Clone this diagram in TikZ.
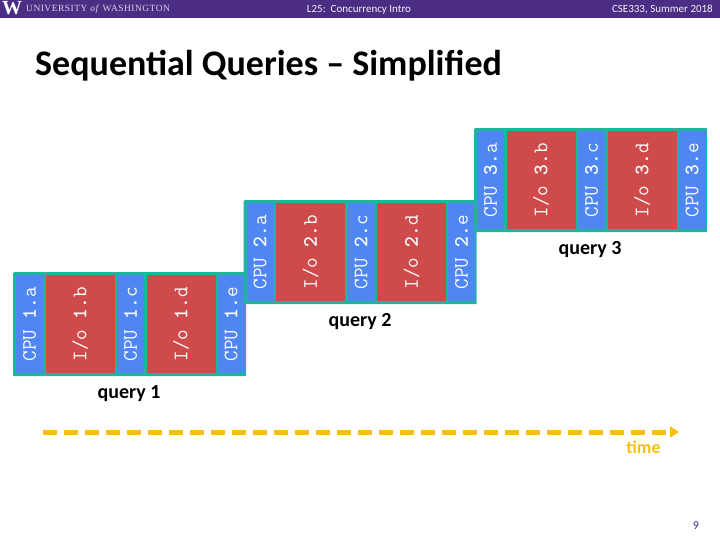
\documentclass[tikz,border=0pt]{standalone}
\usepackage{fontspec}
\setmainfont{Carlito}
\newfontfamily\uwfont[LetterSpace=5]{Liberation Serif}
\usetikzlibrary{arrows.meta}
\definecolor{UWPurple}{HTML}{4B2E83}
\definecolor{QTeal}{HTML}{1DB59B}
\definecolor{CPUBlue}{HTML}{4F86F2}
\definecolor{IORed}{HTML}{CF4A4A}
\definecolor{TimeGold}{HTML}{F6BE17}
\definecolor{UWText}{HTML}{D8D2E6}
\definecolor{HeadText}{HTML}{F4F2F8}
\tikzset{
  querybox/.style={fill=QTeal,rounded corners=1pt,anchor=north west,inner sep=0pt,minimum width=233,minimum height=104},
  cpucell/.style={fill=CPUBlue,anchor=north west,inner sep=0pt,minimum width=27,minimum height=98},
  iocell/.style={fill=IORed,anchor=north west,inner sep=0pt,minimum width=69,minimum height=98},
  celltext/.style={text=white,font=\ttfamily\fontsize{20.5}{20}\selectfont,rotate=90,inner sep=0pt},
  querylabel/.style={font=\bfseries\fontsize{20}{22}\selectfont,text=black,inner sep=0pt},
  headtext/.style={font=\fontsize{11}{12}\selectfont,text=HeadText,inner sep=0pt}
}
\begin{document}
\begin{tikzpicture}[x=1pt,y=-1pt]
\path[use as bounding box] (0,0) rectangle (720,540);
\fill[UWPurple] (0,0) rectangle (720,18.5);
\node[font=\bfseries\fontsize{20}{20}\selectfont\rmfamily\fontspec{Liberation Serif},text=white,inner sep=0pt] (uwlogo) at (12,8.5) {W};
\node[font=\uwfont\fontsize{9.5}{12}\selectfont,text=UWText,anchor=west,inner sep=0pt] (uwname) at (26,9) {UNIVERSITY \textit{of} WASHINGTON};
\node[headtext] (lecture) at (359,9.5) {L25:\ \ Concurrency Intro};
\node[headtext,anchor=east] (course) at (713,9.5) {CSE333, Summer 2018};
\node[font=\bfseries\fontsize{36}{38}\selectfont,text=black,anchor=west,inner sep=0pt] (title) at (35,66) {Sequential Queries -- Simplified};
% query 1
\node[querybox] (q1) at (13,272) {};
\node[cpucell] (q1a) at (16,275) {};
\node[celltext] at (q1a.center) {CPU \textbf{1.}a};
\node[iocell] (q1b) at (45.5,275) {};
\node[celltext] at (q1b.center) {I/o \textbf{1.}b};
\node[cpucell] (q1c) at (117,275) {};
\node[celltext] at (q1c.center) {CPU \textbf{1.}c};
\node[iocell] (q1d) at (146.5,275) {};
\node[celltext] at (q1d.center) {I/o \textbf{1.}d};
\node[cpucell] (q1e) at (217.5,275) {};
\node[celltext] at (q1e.center) {CPU \textbf{1.}e};
\node[querylabel] (q1l) at (129,394) {query 1};
% query 2
\node[querybox] (q2) at (243.5,200) {};
\node[cpucell] (q2a) at (246.5,203) {};
\node[celltext] at (q2a.center) {CPU \textbf{2.}a};
\node[iocell] (q2b) at (276,203) {};
\node[celltext] at (q2b.center) {I/o \textbf{2.}b};
\node[cpucell] (q2c) at (347.5,203) {};
\node[celltext] at (q2c.center) {CPU \textbf{2.}c};
\node[iocell] (q2d) at (377,203) {};
\node[celltext] at (q2d.center) {I/o \textbf{2.}d};
\node[cpucell] (q2e) at (448,203) {};
\node[celltext] at (q2e.center) {CPU \textbf{2.}e};
\node[querylabel] (q2l) at (360,322) {query 2};
% query 3
\node[querybox] (q3) at (474,128) {};
\node[cpucell] (q3a) at (477,131) {};
\node[celltext] at (q3a.center) {CPU \textbf{3.}a};
\node[iocell] (q3b) at (506.5,131) {};
\node[celltext] at (q3b.center) {I/o \textbf{3.}b};
\node[cpucell] (q3c) at (578,131) {};
\node[celltext] at (q3c.center) {CPU \textbf{3.}c};
\node[iocell] (q3d) at (607.5,131) {};
\node[celltext] at (q3d.center) {I/o \textbf{3.}d};
\node[cpucell] (q3e) at (678.5,131) {};
\node[celltext] at (q3e.center) {CPU \textbf{3.}e};
\node[querylabel] (q3l) at (590,250) {query 3};
% time
\coordinate (tstart) at (43,432);
\coordinate (tend) at (679,432);
\draw[TimeGold,line width=5,dash pattern=on 14 off 7,-{Triangle[length=9,width=11]}] (tstart) -- (tend);
\node[font=\bfseries\fontsize{18}{18}\selectfont,text=TimeGold,inner sep=0pt] (timel) at (643.5,447) {time};
\node[font=\fontsize{12}{12}\selectfont,text=UWPurple,inner sep=0pt] (pagenum) at (696,526) {9};
\end{tikzpicture}
\end{document}
